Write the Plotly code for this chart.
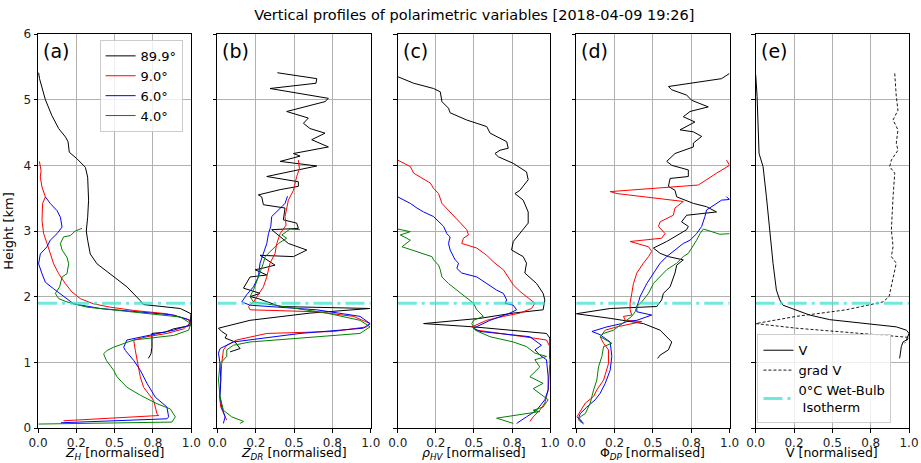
import plotly.graph_objects as go

# ---------------- data ----------------
elevations = ["89.9°", "9.0°", "6.0°", "4.0°"]
line_colors = ["black", "red", "blue", "green"]
isotherm_km = 1.9

# (a) Z_H
zh_899_x = [0.004, 0.01, 0.048, 0.09, 0.135, 0.18, 0.196, 0.204, 0.254, 0.309, 0.324, 0.33, 0.324, 0.315, 0.324, 0.341, 0.385, 0.45, 0.515, 0.58, 0.667, 0.689, 0.928, 0.998, 0.993, 0.885, 0.83, 0.743, 0.743, 0.737, 0.72]
zh_899_h = [5.41, 5.32, 5.0, 4.76, 4.56, 4.43, 4.36, 4.2, 4.1, 3.97, 3.82, 3.47, 3.21, 3.0, 2.86, 2.65, 2.5, 2.38, 2.27, 2.15, 1.94, 1.88, 1.82, 1.74, 1.56, 1.51, 1.46, 1.44, 1.23, 1.13, 1.06]
zh_90_x = [0.009, 0.02, 0.015, 0.026, 0.048, 0.03, 0.026, 0.037, 0.059, 0.08, 0.102, 0.135, 0.178, 0.222, 0.276, 0.363, 0.472, 0.624, 0.841, 0.972, 0.998, 0.95, 0.841, 0.711, 0.624, 0.635, 0.65, 0.667, 0.689, 0.754, 0.776, 0.787, 0.167]
zh_90_h = [4.06, 3.92, 3.82, 3.67, 3.52, 3.42, 3.16, 2.96, 2.81, 2.65, 2.5, 2.35, 2.2, 2.07, 1.97, 1.89, 1.84, 1.79, 1.74, 1.66, 1.61, 1.51, 1.44, 1.39, 1.34, 1.18, 0.98, 0.78, 0.62, 0.42, 0.22, 0.19, 0.11]
zh_60_x = [0.048, 0.08, 0.124, 0.146, 0.157, 0.124, 0.08, 0.059, 0.015, 0.004, 0.026, 0.048, 0.102, 0.157, 0.233, 0.407, 0.667, 0.885, 0.993, 0.983, 0.885, 0.689, 0.58, 0.559, 0.57, 0.624, 0.667, 0.711, 0.765, 0.841, 0.852, 0.841, 0.189, 0.15]
zh_60_h = [3.52, 3.42, 3.31, 3.21, 3.06, 2.96, 2.86, 2.76, 2.65, 2.5, 2.35, 2.22, 2.12, 2.02, 1.89, 1.82, 1.77, 1.72, 1.64, 1.56, 1.49, 1.39, 1.34, 1.23, 1.18, 1.03, 0.88, 0.68, 0.47, 0.32, 0.17, 0.14, 0.09, 0.08]
zh_40_x = [0.287, 0.243, 0.211, 0.167, 0.146, 0.157, 0.189, 0.2, 0.189, 0.157, 0.141, 0.113, 0.135, 0.189, 0.32, 0.515, 0.754, 0.928, 0.998, 0.983, 0.885, 0.624, 0.493, 0.45, 0.428, 0.446, 0.493, 0.515, 0.58, 0.667, 0.776, 0.863, 0.896, 0.874, 0.004]
zh_40_h = [3.04, 3.0, 2.93, 2.91, 2.81, 2.71, 2.6, 2.5, 2.35, 2.3, 2.15, 2.05, 1.97, 1.92, 1.84, 1.79, 1.74, 1.69, 1.59, 1.49, 1.41, 1.34, 1.23, 1.18, 1.13, 1.03, 0.88, 0.78, 0.62, 0.5, 0.37, 0.29, 0.17, 0.09, 0.06]

# (b) Z_DR
zdr_899_x = [0.391, 0.648, 0.643, 0.343, 0.724, 0.702, 0.452, 0.593, 0.561, 0.604, 0.702, 0.615, 0.724, 0.496, 0.539, 0.409, 0.648, 0.322, 0.528, 0.528, 0.409, 0.267, 0.289, 0.3, 0.441, 0.43, 0.517, 0.528, 0.354, 0.409, 0.463, 0.583, 0.496, 0.278, 0.376, 0.289, 0.246, 0.322, 0.213, 0.17, 0.278, 0.213, 0.267, 0.409, 0.996, 0.604, 0.213, 0.007, 0.028, 0.061, 0.05, 0.115, 0.148, 0.083]
zdr_899_h = [5.41, 5.32, 5.25, 5.17, 5.02, 4.97, 4.82, 4.72, 4.64, 4.56, 4.49, 4.39, 4.28, 4.18, 4.14, 4.06, 3.99, 3.83, 3.75, 3.68, 3.63, 3.55, 3.52, 3.4, 3.35, 3.17, 3.12, 3.04, 3.02, 2.91, 2.81, 2.71, 2.61, 2.63, 2.48, 2.43, 2.41, 2.33, 2.3, 2.13, 2.05, 2.0, 1.97, 1.85, 1.82, 1.75, 1.64, 1.52, 1.47, 1.42, 1.37, 1.31, 1.21, 1.16]
zdr_90_x = [0.528, 0.535, 0.517, 0.496, 0.463, 0.452, 0.441, 0.448, 0.409, 0.387, 0.376, 0.343, 0.322, 0.3, 0.267, 0.235, 0.202, 0.213, 0.648, 0.887, 0.996, 0.974, 0.757, 0.322, 0.126, 0.061, 0.039, 0.028, 0.022, 0.013, 0.022, 0.039, 0.061]
zdr_90_h = [4.08, 3.95, 3.83, 3.62, 3.47, 3.32, 3.22, 3.09, 2.96, 2.81, 2.66, 2.51, 2.3, 2.15, 2.03, 1.92, 1.85, 1.8, 1.77, 1.7, 1.59, 1.54, 1.47, 1.44, 1.34, 1.26, 1.19, 0.98, 0.73, 0.48, 0.32, 0.22, 0.12]
zdr_60_x = [0.457, 0.441, 0.42, 0.387, 0.354, 0.348, 0.333, 0.322, 0.3, 0.278, 0.267, 0.235, 0.191, 0.159, 0.213, 0.648, 0.93, 0.996, 0.952, 0.539, 0.104, 0.017, 0.007, 0.017, 0.022, 0.017, 0.028, 0.05, 0.039]
zdr_60_h = [3.53, 3.42, 3.37, 3.29, 3.22, 3.07, 2.96, 2.81, 2.66, 2.51, 2.3, 2.15, 2.03, 1.92, 1.87, 1.8, 1.7, 1.59, 1.52, 1.44, 1.31, 1.21, 1.14, 0.98, 0.73, 0.48, 0.32, 0.17, 0.07]
zdr_40_x = [0.539, 0.474, 0.42, 0.452, 0.398, 0.354, 0.311, 0.3, 0.278, 0.257, 0.235, 0.213, 0.235, 0.43, 0.713, 0.93, 0.996, 0.93, 0.539, 0.213, 0.104, 0.061, 0.061, 0.017, 0.007, 0.017, 0.039, 0.093, 0.17, 0.148]
zdr_40_h = [3.02, 3.03, 2.94, 2.89, 2.81, 2.71, 2.61, 2.51, 2.36, 2.23, 2.1, 2.0, 1.92, 1.85, 1.75, 1.64, 1.54, 1.44, 1.37, 1.31, 1.26, 1.19, 1.09, 0.98, 0.73, 0.48, 0.27, 0.17, 0.1, 0.07]

# (c) rho_HV
rho_899_x = [0.0, 0.105, 0.235, 0.279, 0.29, 0.333, 0.344, 0.453, 0.584, 0.606, 0.715, 0.725, 0.671, 0.638, 0.66, 0.758, 0.845, 0.856, 0.802, 0.769, 0.823, 0.856, 0.856, 0.802, 0.758, 0.747, 0.823, 0.845, 0.834, 0.911, 0.954, 0.965, 0.954, 0.758, 0.54, 0.17, 0.497, 0.976, 0.998, 0.998, 0.996]
rho_899_h = [5.35, 5.25, 5.17, 5.12, 4.97, 4.87, 4.8, 4.69, 4.59, 4.49, 4.36, 4.26, 4.23, 4.18, 4.13, 4.03, 3.9, 3.78, 3.62, 3.57, 3.47, 3.29, 3.12, 2.96, 2.84, 2.71, 2.61, 2.51, 2.36, 2.2, 2.05, 1.95, 1.8, 1.75, 1.67, 1.59, 1.54, 1.44, 1.37, 1.19, 1.06]
rho_90_x = [0.0, 0.083, 0.105, 0.214, 0.235, 0.268, 0.29, 0.344, 0.41, 0.453, 0.464, 0.431, 0.42, 0.519, 0.584, 0.627, 0.693, 0.715, 0.758, 0.802, 0.845, 0.9, 0.878, 0.802, 0.693, 0.584, 0.486, 0.519, 0.889, 0.976, 0.998, 0.998, 0.987, 0.965, 0.932, 0.889, 0.867]
rho_90_h = [4.08, 3.98, 3.88, 3.73, 3.65, 3.57, 3.42, 3.29, 3.14, 3.02, 2.94, 2.89, 2.81, 2.74, 2.63, 2.53, 2.41, 2.33, 2.18, 2.08, 2.0, 1.9, 1.82, 1.75, 1.7, 1.64, 1.54, 1.49, 1.37, 1.34, 1.24, 0.98, 0.58, 0.38, 0.27, 0.17, 0.1]
rho_60_x = [0.0, 0.083, 0.126, 0.17, 0.235, 0.301, 0.322, 0.344, 0.333, 0.344, 0.377, 0.399, 0.388, 0.42, 0.519, 0.584, 0.649, 0.693, 0.715, 0.704, 0.758, 0.78, 0.736, 0.606, 0.497, 0.54, 0.867, 0.943, 0.9, 0.932, 0.976, 0.987, 0.987, 0.965, 0.911, 0.845, 0.78]
rho_60_h = [3.52, 3.42, 3.35, 3.29, 3.22, 3.07, 2.96, 2.91, 2.81, 2.71, 2.56, 2.51, 2.43, 2.36, 2.3, 2.2, 2.1, 2.05, 1.95, 1.9, 1.87, 1.8, 1.75, 1.64, 1.52, 1.47, 1.39, 1.26, 1.19, 1.11, 1.04, 0.78, 0.58, 0.43, 0.27, 0.17, 0.07]
rho_40_x = [0.0, 0.083, 0.017, 0.083, 0.028, 0.126, 0.224, 0.235, 0.268, 0.279, 0.29, 0.333, 0.388, 0.442, 0.497, 0.519, 0.562, 0.497, 0.486, 0.508, 0.606, 0.758, 0.845, 0.9, 0.976, 0.9, 0.932, 0.867, 0.954, 0.889, 0.932, 0.987, 0.954, 0.889, 0.932, 0.649, 0.758]
rho_40_h = [3.03, 2.99, 2.94, 2.86, 2.76, 2.69, 2.61, 2.56, 2.48, 2.41, 2.3, 2.2, 2.1, 2.0, 1.9, 1.8, 1.7, 1.64, 1.59, 1.49, 1.39, 1.31, 1.24, 1.14, 1.09, 1.04, 0.93, 0.78, 0.68, 0.6, 0.53, 0.43, 0.32, 0.27, 0.25, 0.15, 0.07]

# (d) Phi_DP
phi_899_x = [1.0, 0.948, 0.601, 0.623, 0.72, 0.753, 0.861, 0.742, 0.698, 0.774, 0.677, 0.764, 0.818, 0.764, 0.764, 0.644, 0.59, 0.623, 0.731, 0.731, 0.612, 0.601, 0.644, 0.655, 0.764, 0.85, 0.915, 0.72, 0.687, 0.731, 0.72, 0.677, 0.59, 0.503, 0.547, 0.601, 0.698, 0.655, 0.644, 0.612, 0.568, 0.557, 0.525, 0.221, 0.0, 0.221, 0.438, 0.547, 0.59, 0.623, 0.601, 0.547, 0.531]
phi_899_h = [5.4, 5.32, 5.2, 5.15, 5.07, 4.99, 4.89, 4.82, 4.74, 4.66, 4.54, 4.51, 4.44, 4.34, 4.28, 4.18, 4.06, 4.0, 3.93, 3.83, 3.8, 3.68, 3.62, 3.52, 3.42, 3.37, 3.29, 3.24, 3.14, 3.07, 3.02, 2.96, 2.84, 2.74, 2.66, 2.61, 2.56, 2.48, 2.36, 2.15, 2.05, 1.95, 1.85, 1.82, 1.74, 1.67, 1.59, 1.49, 1.39, 1.31, 1.19, 1.11, 1.06]
phi_90_x = [0.98, 1.0, 0.915, 0.829, 0.796, 0.221, 0.265, 0.698, 0.644, 0.633, 0.547, 0.536, 0.579, 0.557, 0.351, 0.471, 0.492, 0.471, 0.438, 0.395, 0.373, 0.362, 0.351, 0.351, 0.362, 0.308, 0.319, 0.427, 0.265, 0.189, 0.156, 0.178, 0.21, 0.21, 0.178, 0.134, 0.113, 0.059, 0.026, 0.004, 0.037]
phi_90_h = [4.08, 4.0, 3.88, 3.75, 3.7, 3.6, 3.57, 3.45, 3.35, 3.24, 3.14, 3.07, 2.96, 2.89, 2.84, 2.76, 2.69, 2.61, 2.51, 2.36, 2.2, 2.05, 1.9, 1.8, 1.72, 1.7, 1.64, 1.62, 1.54, 1.49, 1.39, 1.29, 1.19, 0.98, 0.73, 0.58, 0.48, 0.38, 0.25, 0.17, 0.1]
phi_60_x = [0.98, 1.0, 0.948, 0.915, 0.85, 0.839, 0.818, 0.785, 0.742, 0.698, 0.644, 0.59, 0.547, 0.503, 0.46, 0.438, 0.416, 0.406, 0.395, 0.395, 0.492, 0.395, 0.33, 0.297, 0.2, 0.102, 0.156, 0.221, 0.232, 0.221, 0.189, 0.156, 0.124, 0.069, 0.026, 0.015, 0.048]
phi_60_h = [3.52, 3.48, 3.47, 3.42, 3.32, 3.22, 3.07, 2.96, 2.86, 2.81, 2.71, 2.61, 2.51, 2.36, 2.2, 2.1, 2.0, 1.92, 1.85, 1.77, 1.72, 1.64, 1.62, 1.59, 1.54, 1.47, 1.42, 1.31, 1.09, 0.88, 0.68, 0.53, 0.43, 0.32, 0.22, 0.15, 0.07]
phi_40_x = [1.0, 0.937, 0.829, 0.807, 0.785, 0.753, 0.731, 0.698, 0.655, 0.59, 0.547, 0.503, 0.471, 0.427, 0.395, 0.384, 0.362, 0.33, 0.297, 0.243, 0.178, 0.156, 0.232, 0.178, 0.167, 0.145, 0.134, 0.113, 0.091, 0.059, 0.026, 0.015, 0.048]
phi_40_h = [2.96, 2.95, 3.03, 2.96, 2.86, 2.74, 2.66, 2.61, 2.51, 2.41, 2.3, 2.2, 2.05, 1.92, 1.85, 1.77, 1.7, 1.64, 1.59, 1.49, 1.44, 1.39, 1.29, 1.24, 1.09, 0.93, 0.73, 0.58, 0.38, 0.22, 0.17, 0.12, 0.06]

# (e) Doppler velocity and its gradient
v_x = [0.0, 0.009, 0.022, 0.048, 0.07, 0.091, 0.113, 0.135, 0.157, 0.178, 0.265, 0.352, 0.483, 0.7, 0.917, 0.983, 1.0, 0.983, 0.961, 0.95, 0.939]
v_h = [5.38, 5.05, 4.18, 3.98, 3.52, 3.02, 2.51, 2.1, 1.95, 1.87, 1.8, 1.72, 1.65, 1.59, 1.54, 1.49, 1.44, 1.34, 1.31, 1.24, 1.06]
gradv_x = [0.907, 0.917, 0.928, 0.896, 0.928, 0.917, 0.928, 0.885, 0.874, 0.907, 0.896, 0.885, 0.896, 0.885, 0.917, 0.896, 0.874, 0.87, 0.83, 0.591, 0.265, 0.0, 0.265, 0.7, 1.0, 0.972]
gradv_h = [5.4, 5.05, 4.84, 4.69, 4.54, 4.34, 4.23, 4.08, 3.98, 3.88, 3.52, 3.02, 2.76, 2.61, 2.51, 2.3, 2.05, 2.0, 1.92, 1.8, 1.7, 1.59, 1.52, 1.44, 1.38, 1.29]

x_tickvals = [0, 0.25, 0.5, 0.75, 1.0]
x_ticktext = ["0.0", "0.2", "0.5", "0.8", "1.0"]
y_tickvals = [0, 1, 2, 3, 4, 5, 6]
panel_labels = ["(a)", "(b)", "(c)", "(d)", "(e)"]
x_titles = ["<i>Z</i><sub><i>H</i></sub> [normalised]",
            "<i>Z</i><sub><i>DR</i></sub> [normalised]",
            "<i>ρ</i><sub><i>HV</i></sub> [normalised]",
            "Φ<sub><i>DP</i></sub> [normalised]",
            "V [normalised]"]
title_text = "Vertical profiles of polarimetric variables [2018-04-09 19:26]"

# ---------------- figure ----------------
FONT = "DejaVu Sans"
ISO_COLOR = "rgba(64,224,208,0.75)"
domains = [[0.0, 0.176], [0.206, 0.382], [0.413, 0.588], [0.618, 0.794], [0.824, 1.0]]

fig = go.Figure()

panels = [
    [(zh_899_x, zh_899_h), (zh_90_x, zh_90_h), (zh_60_x, zh_60_h), (zh_40_x, zh_40_h)],
    [(zdr_899_x, zdr_899_h), (zdr_90_x, zdr_90_h), (zdr_60_x, zdr_60_h), (zdr_40_x, zdr_40_h)],
    [(rho_899_x, rho_899_h), (rho_90_x, rho_90_h), (rho_60_x, rho_60_h), (rho_40_x, rho_40_h)],
    [(phi_899_x, phi_899_h), (phi_90_x, phi_90_h), (phi_60_x, phi_60_h), (phi_40_x, phi_40_h)],
]

for p, series in enumerate(panels):
    xa = "x" if p == 0 else f"x{p+1}"
    ya = "y" if p == 0 else f"y{p+1}"
    for i, (xs, hs) in enumerate(series):
        fig.add_trace(go.Scatter(
            x=xs, y=hs, mode="lines", xaxis=xa, yaxis=ya,
            line=dict(color=line_colors[i], width=1),
            name=elevations[i], showlegend=(p == 0), legend="legend"))
    fig.add_trace(go.Scatter(
        x=[0, 1], y=[isotherm_km, isotherm_km], mode="lines", xaxis=xa, yaxis=ya,
        line=dict(color=ISO_COLOR, width=3, dash="19px,5px,3px,5px"),
        showlegend=False, hoverinfo="skip"))

# panel (e)
fig.add_trace(go.Scatter(x=v_x, y=v_h, mode="lines", xaxis="x5", yaxis="y5",
                         line=dict(color="black", width=1), name="V", legend="legend2"))
fig.add_trace(go.Scatter(x=gradv_x, y=gradv_h, mode="lines", xaxis="x5", yaxis="y5",
                         line=dict(color="black", width=0.9, dash="3px,2px"),
                         name="grad V", legend="legend2"))
fig.add_trace(go.Scatter(x=[0, 1], y=[isotherm_km, isotherm_km], mode="lines",
                         xaxis="x5", yaxis="y5",
                         line=dict(color=ISO_COLOR, width=3, dash="19px,5px,3px,5px"),
                         name="0°C Wet-Bulb<br> Isotherm", legend="legend2"))

axis_common = dict(showline=True, mirror=True, linecolor="black", linewidth=1,
                   ticks="outside", ticklen=3.5, tickcolor="black",
                   showgrid=True, gridcolor="#b0b0b0", gridwidth=1, zeroline=False,
                   automargin=False,
                   tickfont=dict(family=FONT, size=12, color="#222"))

layout = dict(
    width=921, height=463,
    margin=dict(l=38, r=12, t=34, b=35),
    paper_bgcolor="white", plot_bgcolor="white",
    font=dict(family=FONT, color="black"),
    title=dict(text=title_text, x=0.515, xanchor="center", y=0.967, yanchor="middle",
               font=dict(family=FONT, size=14.5, color="black")),
    legend=dict(x=0.166, xanchor="right", y=0.985, yanchor="top",
                bgcolor="rgba(255,255,255,0.8)", bordercolor="#cccccc", borderwidth=1,
                font=dict(family=FONT, size=13), itemwidth=30, tracegroupgap=0),
    legend2=dict(x=0.826, xanchor="left", y=0.012, yanchor="bottom",
                 bgcolor="rgba(255,255,255,0.8)", bordercolor="#cccccc", borderwidth=1,
                 font=dict(family=FONT, size=13), itemwidth=30, tracegroupgap=0),
    showlegend=True,
)

annotations = []
for p in range(5):
    xk = "xaxis" if p == 0 else f"xaxis{p+1}"
    yk = "yaxis" if p == 0 else f"yaxis{p+1}"
    xa = "x" if p == 0 else f"x{p+1}"
    ya = "y" if p == 0 else f"y{p+1}"
    layout[xk] = dict(domain=domains[p], range=[0, 1], anchor=ya,
                      tickmode="array", tickvals=x_tickvals, ticktext=x_ticktext,
                      **axis_common)
    ydict = dict(domain=[0, 1], range=[0, 6], anchor=xa,
                 tickmode="array", tickvals=y_tickvals,
                 showticklabels=(p == 0), **axis_common)
    if p == 0:
        ydict["title"] = dict(text="Height [km]", standoff=6, font=dict(family=FONT, size=13))
    layout[yk] = ydict
    annotations.append(dict(text=panel_labels[p], xref=f"{xa} domain", yref=f"{ya} domain",
                            x=0.02, y=0.99, xanchor="left", yanchor="top", showarrow=False,
                            font=dict(family=FONT, size=19, color="black")))
    annotations.append(dict(text=x_titles[p], xref=f"{xa} domain", yref=f"{ya} domain",
                            x=0.5, y=0, xanchor="center", yanchor="top", yshift=-16,
                            borderpad=0, showarrow=False,
                            font=dict(family=FONT, size=12.5, color="black")))
layout["annotations"] = annotations

fig.update_layout(**layout)
fig.write_html("out.html")
